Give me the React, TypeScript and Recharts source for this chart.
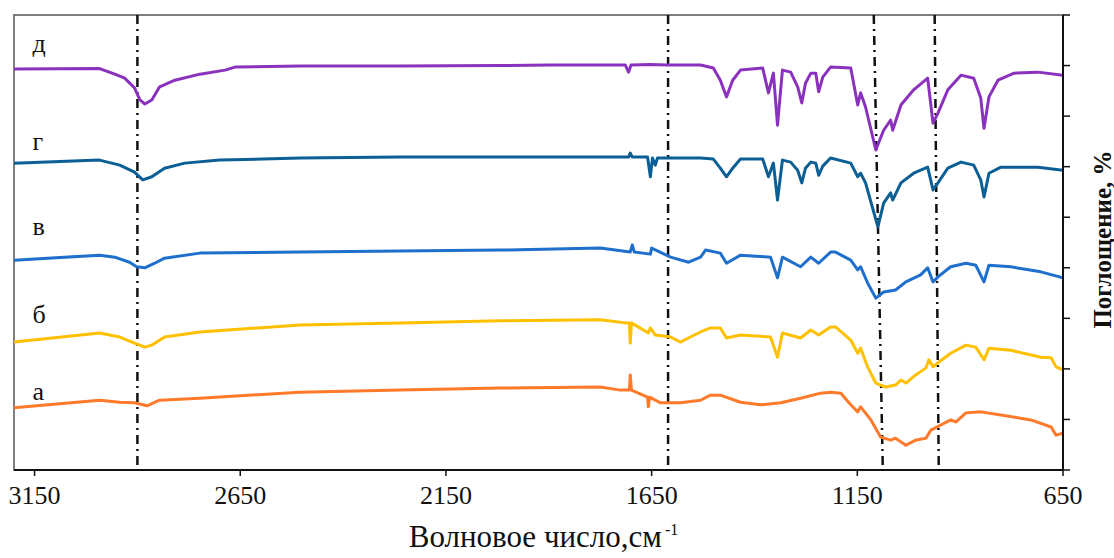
import React from 'react';
import {
  Label,
  Line,
  LineChart,
  ReferenceArea,
  ReferenceDot,
  ReferenceLine,
  XAxis,
  YAxis,
} from 'recharts';

const SERIF = '"Liberation Serif", "Times New Roman", serif';

// wavenumber ticks, cm-1
const xTicks = [3150, 2650, 2150, 1650, 1150, 650];
const yTicks = [0, 1, 2, 3, 4, 5, 6, 7, 8, 9];

// д
const wD = [3200, 2992, 2955, 2931, 2907, 2894, 2882, 2865, 2846, 2809, 2748, 2687, 2663, 2505, 2261, 2018, 1896, 1775, 1714, 1706, 1700, 1653, 1612, 1531, 1500, 1483, 1468, 1453, 1434, 1380, 1366, 1354, 1344, 1332, 1312, 1295, 1285, 1276, 1263, 1251, 1244, 1234, 1215, 1166, 1149, 1142, 1130, 1105, 1086, 1069, 1064, 1044, 1013, 979, 966, 954, 930, 898, 867, 850, 842, 830, 808, 769, 711, 650];
const vD = [7.93, 7.94, 7.83, 7.75, 7.56, 7.32, 7.24, 7.32, 7.58, 7.71, 7.83, 7.91, 7.97, 7.99, 7.99, 8.0, 8.01, 8.01, 8.01, 7.87, 8.01, 8.02, 8.01, 8.01, 7.95, 7.71, 7.38, 7.71, 7.91, 7.95, 7.46, 7.85, 6.82, 7.91, 7.87, 7.58, 7.26, 7.65, 7.85, 7.85, 7.48, 7.77, 7.97, 7.95, 7.22, 7.46, 7.18, 6.33, 6.72, 6.92, 6.72, 7.22, 7.52, 7.75, 6.86, 7.06, 7.52, 7.81, 7.75, 7.36, 6.76, 7.38, 7.71, 7.85, 7.87, 7.81];

// г
const wG = [3200, 2992, 2943, 2907, 2887, 2865, 2834, 2785, 2700, 2505, 2261, 2018, 1775, 1706, 1702, 1697, 1660, 1653, 1648, 1641, 1636, 1612, 1531, 1500, 1483, 1468, 1453, 1434, 1380, 1366, 1354, 1344, 1332, 1312, 1295, 1285, 1276, 1263, 1251, 1244, 1234, 1215, 1166, 1149, 1142, 1130, 1100, 1086, 1069, 1064, 1044, 1013, 979, 966, 954, 930, 898, 867, 850, 842, 830, 801, 711, 650];
const vG = [6.07, 6.13, 6.03, 5.89, 5.74, 5.8, 5.97, 6.07, 6.13, 6.17, 6.19, 6.19, 6.19, 6.19, 6.27, 6.19, 6.19, 5.8, 6.17, 6.03, 6.17, 6.17, 6.17, 6.15, 5.97, 5.8, 5.97, 6.15, 6.15, 5.8, 6.07, 5.34, 6.13, 6.09, 5.93, 5.68, 5.97, 6.09, 6.07, 5.83, 6.01, 6.17, 6.07, 5.8, 5.87, 5.68, 4.81, 5.28, 5.48, 5.34, 5.68, 5.87, 5.99, 5.54, 5.68, 5.97, 6.09, 6.03, 5.74, 5.4, 5.87, 5.99, 5.99, 5.93];

// в
const wV = [3200, 2992, 2955, 2919, 2902, 2882, 2858, 2834, 2748, 2505, 2261, 2018, 1775, 1702, 1697, 1692, 1653, 1650, 1604, 1560, 1531, 1519, 1483, 1468, 1434, 1361, 1344, 1332, 1288, 1263, 1244, 1215, 1203, 1166, 1149, 1142, 1125, 1105, 1086, 1057, 1032, 996, 979, 966, 954, 923, 886, 862, 842, 830, 777, 704, 650];
const vV = [4.15, 4.25, 4.21, 4.11, 4.02, 4.0, 4.09, 4.19, 4.29, 4.31, 4.33, 4.35, 4.39, 4.31, 4.45, 4.31, 4.27, 4.39, 4.21, 4.11, 4.21, 4.35, 4.29, 4.09, 4.25, 4.21, 3.8, 4.21, 4.02, 4.21, 4.09, 4.31, 4.31, 4.15, 3.96, 4.02, 3.7, 3.4, 3.52, 3.56, 3.72, 3.86, 4.0, 3.72, 3.82, 4.02, 4.09, 4.05, 3.72, 4.05, 4.02, 3.92, 3.8];

// б
const wB = [3200, 2992, 2943, 2907, 2882, 2865, 2834, 2748, 2505, 2261, 2018, 1775, 1714, 1704, 1702, 1699, 1658, 1653, 1641, 1604, 1580, 1556, 1531, 1507, 1483, 1468, 1434, 1361, 1344, 1332, 1288, 1263, 1244, 1215, 1203, 1166, 1149, 1142, 1125, 1105, 1081, 1057, 1044, 1032, 1008, 983, 976, 966, 954, 923, 886, 862, 842, 830, 777, 704, 679, 667, 650];
const vB = [2.53, 2.71, 2.63, 2.51, 2.43, 2.47, 2.63, 2.73, 2.87, 2.91, 2.95, 2.97, 2.91, 2.91, 2.51, 2.91, 2.71, 2.81, 2.67, 2.63, 2.53, 2.63, 2.73, 2.81, 2.81, 2.61, 2.67, 2.63, 2.23, 2.71, 2.61, 2.77, 2.67, 2.83, 2.83, 2.57, 2.31, 2.41, 2.04, 1.72, 1.64, 1.68, 1.78, 1.72, 1.88, 2.02, 2.18, 2.04, 2.12, 2.31, 2.47, 2.43, 2.18, 2.41, 2.37, 2.23, 2.22, 2.04, 1.98];

// а
const wA = [3200, 2992, 2943, 2907, 2877, 2846, 2748, 2505, 2261, 2018, 1775, 1726, 1704, 1702, 1699, 1660, 1658, 1655, 1629, 1580, 1531, 1507, 1483, 1434, 1385, 1336, 1288, 1239, 1215, 1190, 1166, 1149, 1142, 1117, 1093, 1069, 1057, 1032, 1008, 983, 971, 947, 923, 910, 886, 850, 801, 728, 679, 667, 650];
const vA = [1.23, 1.38, 1.34, 1.33, 1.27, 1.38, 1.42, 1.54, 1.58, 1.62, 1.64, 1.58, 1.58, 1.88, 1.58, 1.44, 1.25, 1.44, 1.33, 1.33, 1.38, 1.48, 1.48, 1.34, 1.29, 1.33, 1.42, 1.52, 1.54, 1.52, 1.29, 1.15, 1.25, 0.99, 0.65, 0.59, 0.63, 0.49, 0.59, 0.63, 0.79, 0.89, 0.99, 0.95, 1.13, 1.15, 1.09, 0.99, 0.85, 0.69, 0.73];

const toData = (w: number[], v: number[]) => w.map((x, i) => ({ w: x, v: v[i] }));

const series = [
  { name: 'д', color: '#8a32bd', data: toData(wD, vD), labelY: 8.27 },
  { name: 'г', color: '#0b5f94', data: toData(wG, vG), labelY: 6.33 },
  { name: 'в', color: '#1f6fcc', data: toData(wV, vV), labelY: 4.65 },
  { name: 'б', color: '#ffc000', data: toData(wB, vB), labelY: 2.91 },
  { name: 'а', color: '#ff7a2a', data: toData(wA, vA), labelY: 1.38 },
];

// dash-dot marker lines (top and bottom wavenumber)
const markers = [
  [2900, 2900],
  [1610, 1610],
  [1110, 1088],
  [962, 952],
];

const EmptyTick = () => <g />;

const XTitle = (props: any) => {
  const { x, y, width } = props.viewBox;
  return (
    <text x={x + width / 2 + 5} y={y + 77} textAnchor="middle" fontFamily={SERIF} fontSize={31} fill="#111">
      <tspan>Волновое число,см</tspan>
      <tspan dx={3} dy={-12} fontSize={16}>-1</tspan>
    </text>
  );
};

const YTitle = (props: any) => {
  const { x, y, height } = props.viewBox;
  const cx = x + 39;
  const cy = y + height / 2 - 3;
  return (
    <text
      x={cx}
      y={cy}
      transform={`rotate(-90, ${cx}, ${cy})`}
      textAnchor="middle"
      dominantBaseline="central"
      fontFamily={SERIF}
      fontWeight="bold"
      fontSize={25}
      fill="#111"
    >
      Поглощение, %
    </text>
  );
};

export default function App() {
  return (
    <div style={{ position: 'fixed', left: 0, top: 0, width: 1114, height: 558, background: '#fff' }}>
      <LineChart width={1114} height={558} margin={{ top: 15, right: 6, bottom: 0, left: 14 }}>
        <ReferenceArea x1={3200} x2={650} y1={0} y2={9} fill="none" stroke="#555" strokeWidth={1.5} />
        <XAxis
          dataKey="w"
          type="number"
          domain={[650, 3200]}
          reversed
          ticks={xTicks}
          allowDataOverflow
          height={88}
          tickSize={6}
          tickMargin={10}
          axisLine={{ stroke: '#111', strokeWidth: 2 }}
          tickLine={{ stroke: '#111', strokeWidth: 1.5 }}
          tick={{ fill: '#111', fontSize: 26, fontFamily: SERIF }}
        >
          <Label content={XTitle} />
        </XAxis>
        <YAxis
          type="number"
          orientation="right"
          domain={[0, 9]}
          ticks={yTicks}
          width={45}
          tickSize={7}
          tick={EmptyTick}
          axisLine={{ stroke: '#111', strokeWidth: 2 }}
          tickLine={{ stroke: '#111', strokeWidth: 1.5 }}
        >
          <Label content={YTitle} />
        </YAxis>
        {markers.map(([top, bottom], i) => (
          <ReferenceLine
            key={`m-${i}`}
            segment={[
              { x: top, y: 9 },
              { x: bottom, y: 0 },
            ]}
            stroke="#111"
            strokeWidth={2.5}
            strokeDasharray="9 5 2 5"
          />
        ))}
        {series.map((s) => (
          <Line
            key={s.name}
            data={s.data}
            dataKey="v"
            type="linear"
            stroke={s.color}
            strokeWidth={3}
            strokeLinejoin="round"
            dot={false}
            isAnimationActive={false}
          />
        ))}
        {series.map((s) => (
          <ReferenceDot
            key={`l-${s.name}`}
            x={3155}
            y={s.labelY}
            r={0}
            shape={(p: any) => (
              <text x={p.cx} y={p.cy} fontFamily={SERIF} fontSize={26} fill="#111">
                {s.name}
              </text>
            )}
          />
        ))}
      </LineChart>
    </div>
  );
}
